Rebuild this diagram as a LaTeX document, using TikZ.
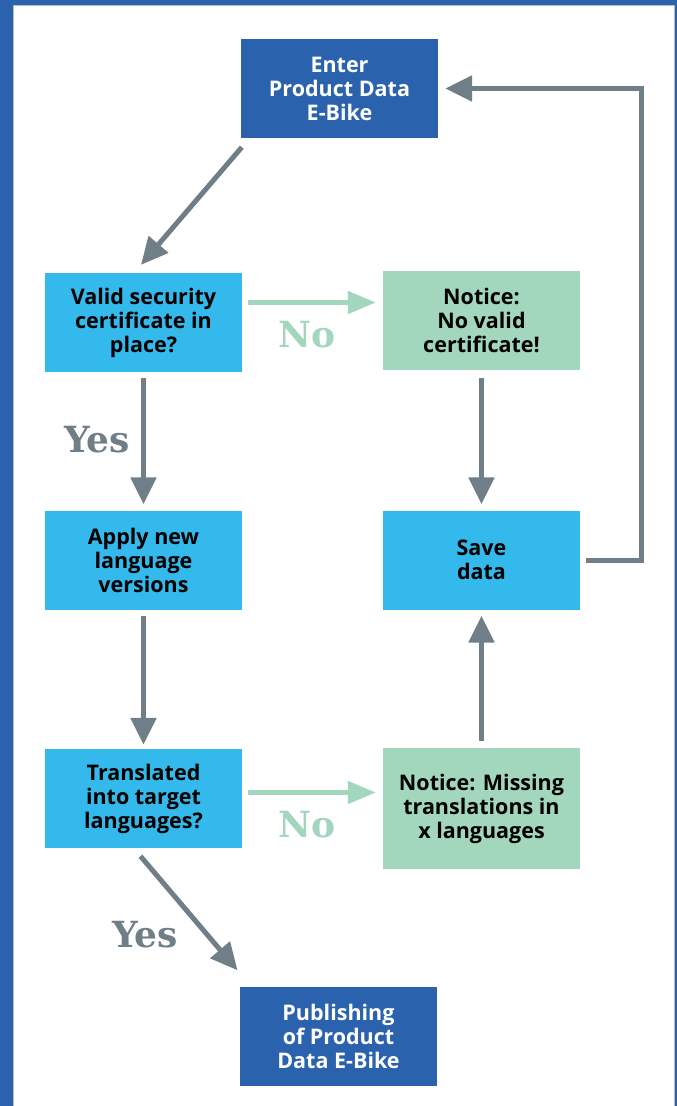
\documentclass[tikz,border=0pt]{standalone}
\usepackage{fontspec}
\setmainfont{Open Sans}
\newfontfamily\slab{DejaVu Serif}
\usetikzlibrary{arrows.meta,calc}
\definecolor{dblue}{HTML}{2B62AD}
\definecolor{lblue}{HTML}{33B9EB}
\definecolor{lgreen}{HTML}{A2D6BD}
\definecolor{arrgray}{HTML}{6F7E87}
\definecolor{framegray}{HTML}{B8BCC2}
\tikzset{
  box/.style={minimum width=197pt, minimum height=99pt, inner sep=0pt, align=center,
    font=\fontsize{21.5}{24}\selectfont\bfseries},
  dbox/.style={box, fill=dblue, text=white},
  qbox/.style={box, fill=lblue, text=black},
  nbox/.style={box, fill=lgreen, text=black},
  arr/.style={draw=arrgray, line width=5pt, -{Triangle[length=27pt,width=25pt]}},
  garr/.style={draw=lgreen, line width=5pt, -{Triangle[length=28pt,width=22pt]}},
  lbl/.style={font=\slab\bfseries\fontsize{36}{40}\selectfont, inner sep=0pt}
}
\begin{document}
\begin{tikzpicture}[x=1pt,y=-1pt]
\useasboundingbox (0,0) rectangle (677,1106);
\fill[dblue] (0,0) rectangle (677,1106);
\draw[framegray, fill=white, line width=1pt] (13.5,5.5) rectangle (674,1107);

\node[dbox] (enter) at (339.5,88.5) {Enter\\Product Data\\E-Bike};
\node[qbox] (valid) at (143.5,322.5) {Valid security\\certificate in\\place?};
\node[nbox] (notice1) at (481.5,320.5) {Notice:\\No valid\\certificate!};
\node[qbox] (apply) at (143.5,560) {Apply new\\language\\versions};
\node[qbox] (save) at (481.5,560) {Save\\data};
\node[qbox] (trans) at (143.5,798.5) {Translated\\into target\\languages?};
\node[nbox, minimum height=121pt] (notice2) at (481.5,808.5) {Notice: Missing\\translations in\\x languages};
\node[dbox] (pub) at (338.5,1036) {Publishing\\of Product\\Data E-Bike};

% connectors
\draw[arr] ($(enter.south west)+(1,9)$) -- ($(valid.north)+(-2.5,-8)$);
\draw[garr] ($(valid.east)+(6,-20)$) -- ($(notice1.west)+(-7,-18)$);
\node[lbl, text=lgreen] (no1) at (307,335) {No};
\draw[arr] ($(valid.south)+(0,6)$) -- ($(apply.north)+(0,-6)$);
\node[lbl, text=arrgray] (yes1) at (97,440) {Yes};
\draw[arr] ($(notice1.south)+(0,8)$) -- ($(save.north)+(0,-6)$);
\draw[arr] ($(apply.south)+(0,6)$) -- ($(trans.north)+(0,-4)$);
\draw[garr] ($(trans.east)+(6,-6)$) -- ($(notice2.west)+(-7,-16)$);
\node[lbl, text=lgreen] (no2) at (307,825) {No};
\draw[arr] ($(notice2.north)+(0,-7)$) -- ($(save.south)+(0,6)$);
\coordinate (c1) at ($(save.east)+(61,0)$);
\coordinate (c2) at ($(c1|-enter.east)$);
\draw[arr, line join=miter] ($(save.east)+(6,0)$) -- (c1) -- (c2) -- ($(enter.east)+(7,0)$);
\draw[arr] ($(trans.south)+(-3,8)$) -- ($(pub.north)+(-101,-16)$);
\node[lbl, text=arrgray] (yes2) at (145,935) {Yes};
\end{tikzpicture}
\end{document}
